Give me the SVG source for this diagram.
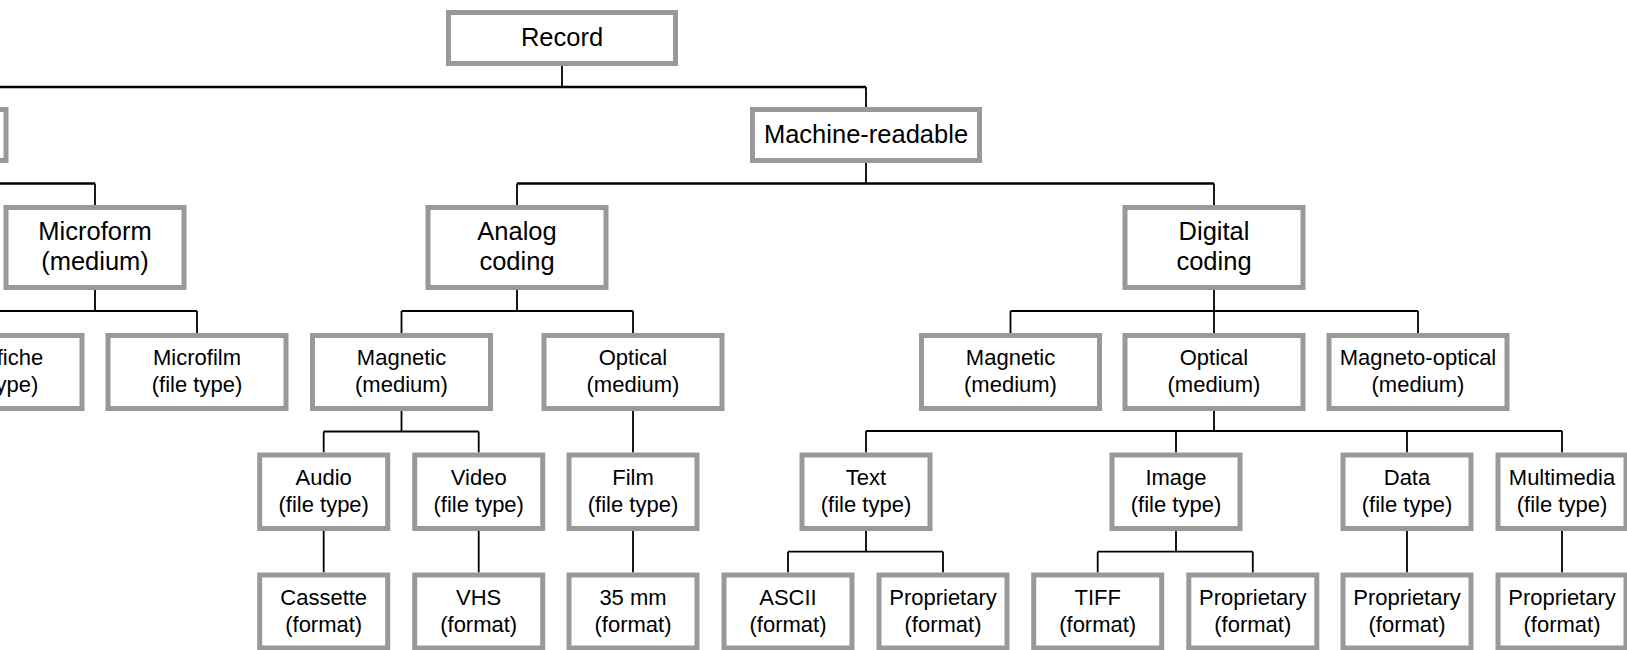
<svg xmlns="http://www.w3.org/2000/svg" width="1627" height="650" viewBox="0 0 1627 650">
<style>
.box{fill:#fff;stroke:#999;stroke-width:5}
.c{fill:none;stroke:#000;stroke-width:1.8}
.c2{fill:none;stroke:#000;stroke-width:2.4}
text{font-family:"Liberation Sans",Arial,sans-serif;fill:#000;text-anchor:middle}
.t1{font-size:25.5px}
.t2{font-size:22px}
</style>
<rect x="0" y="0" width="1627" height="650" fill="#fff"/>
<g id="connectors">
<path class="c2" d="M0,87H866"/>
<path class="c2" d="M517,183.5H1214 M0,183.5H95"/>
<path class="c" d="M562,66V87 M866,87V107 M866,163V183.5 M517,183.5V205 M1214,183.5V205 M95,183.5V205
M95,290V311 M-7,311H197 M197,311V333
M517,290V311 M401.5,311H633 M401.5,311V333 M633,311V333
M1214,290V333 M1010.5,311H1418 M1010.5,311V333 M1418,311V333
M401.5,411V431.5 M323.7,431.5H478.7 M323.7,431.5V452.5 M478.7,431.5V452.5
M633,411V452.5
M323.7,531V572.5 M478.7,531V572.5 M633,531V572.5
M1214,411V431 M866,431H1562 M866,431V452.5 M1176,431V452.5 M1407,431V452.5 M1562,431V452.5
M866,531V551.7 M788,551.7H943 M788,551.7V572.5 M943,551.7V572.5
M1176,531V551.7 M1097.7,551.7H1252.8 M1097.7,551.7V572.5 M1252.8,551.7V572.5
M1407,531V572.5 M1562,531V572.5"/>
</g>
<g id="record"><rect class="box" x="448.5" y="12.5" width="227" height="51"/><text class="t1" x="562" y="46">Record</text></g>
<g id="human-readable"><rect class="box" x="-220" y="109.5" width="226" height="51"/></g>
<g id="machine-readable"><rect class="box" x="752.5" y="109.5" width="227" height="51"/><text class="t1" x="866" y="143">Machine-readable</text></g>
<g id="microform"><rect class="box" x="6" y="207.5" width="178" height="80"/><text class="t1" x="95" y="240">Microform</text><text class="t1" x="95" y="270">(medium)</text></g>
<g id="analog"><rect class="box" x="428" y="207.5" width="178" height="80"/><text class="t1" x="517" y="240">Analog</text><text class="t1" x="517" y="270">coding</text></g>
<g id="digital"><rect class="box" x="1125" y="207.5" width="178" height="80"/><text class="t1" x="1214" y="240">Digital</text><text class="t1" x="1214" y="270">coding</text></g>
<g id="microfiche"><rect class="box" x="-96" y="335.5" width="178" height="73"/><text class="t2" x="-7" y="365">Microfiche</text><text class="t2" x="-7" y="391.5">(file type)</text></g>
<g id="microfilm"><rect class="box" x="108" y="335.5" width="178" height="73"/><text class="t2" x="197" y="365">Microfilm</text><text class="t2" x="197" y="391.5">(file type)</text></g>
<g id="analog-magnetic"><rect class="box" x="312.5" y="335.5" width="178" height="73"/><text class="t2" x="401.5" y="365">Magnetic</text><text class="t2" x="401.5" y="391.5">(medium)</text></g>
<g id="analog-optical"><rect class="box" x="544" y="335.5" width="178" height="73"/><text class="t2" x="633" y="365">Optical</text><text class="t2" x="633" y="391.5">(medium)</text></g>
<g id="digital-magnetic"><rect class="box" x="921.5" y="335.5" width="178" height="73"/><text class="t2" x="1010.5" y="365">Magnetic</text><text class="t2" x="1010.5" y="391.5">(medium)</text></g>
<g id="digital-optical"><rect class="box" x="1125" y="335.5" width="178" height="73"/><text class="t2" x="1214" y="365">Optical</text><text class="t2" x="1214" y="391.5">(medium)</text></g>
<g id="magneto-optical"><rect class="box" x="1329" y="335.5" width="178" height="73"/><text class="t2" x="1418" y="365">Magneto-optical</text><text class="t2" x="1418" y="391.5">(medium)</text></g>
<g id="audio"><rect class="box" x="259.7" y="455" width="128" height="73.5"/><text class="t2" x="323.7" y="485">Audio</text><text class="t2" x="323.7" y="511.5">(file type)</text></g>
<g id="video"><rect class="box" x="414.7" y="455" width="128" height="73.5"/><text class="t2" x="478.7" y="485">Video</text><text class="t2" x="478.7" y="511.5">(file type)</text></g>
<g id="film"><rect class="box" x="569" y="455" width="128" height="73.5"/><text class="t2" x="633" y="485">Film</text><text class="t2" x="633" y="511.5">(file type)</text></g>
<g id="text"><rect class="box" x="802" y="455" width="128" height="73.5"/><text class="t2" x="866" y="485">Text</text><text class="t2" x="866" y="511.5">(file type)</text></g>
<g id="image"><rect class="box" x="1112" y="455" width="128" height="73.5"/><text class="t2" x="1176" y="485">Image</text><text class="t2" x="1176" y="511.5">(file type)</text></g>
<g id="data"><rect class="box" x="1343" y="455" width="128" height="73.5"/><text class="t2" x="1407" y="485">Data</text><text class="t2" x="1407" y="511.5">(file type)</text></g>
<g id="multimedia"><rect class="box" x="1498" y="455" width="128" height="73.5"/><text class="t2" x="1562" y="485">Multimedia</text><text class="t2" x="1562" y="511.5">(file type)</text></g>
<g id="cassette"><rect class="box" x="259.7" y="575" width="128" height="73"/><text class="t2" x="323.7" y="605">Cassette</text><text class="t2" x="323.7" y="631.5">(format)</text></g>
<g id="vhs"><rect class="box" x="414.7" y="575" width="128" height="73"/><text class="t2" x="478.7" y="605">VHS</text><text class="t2" x="478.7" y="631.5">(format)</text></g>
<g id="mm35"><rect class="box" x="569" y="575" width="128" height="73"/><text class="t2" x="633" y="605">35 mm</text><text class="t2" x="633" y="631.5">(format)</text></g>
<g id="ascii"><rect class="box" x="724" y="575" width="128" height="73"/><text class="t2" x="788" y="605">ASCII</text><text class="t2" x="788" y="631.5">(format)</text></g>
<g id="text-proprietary"><rect class="box" x="879" y="575" width="128" height="73"/><text class="t2" x="943" y="605">Proprietary</text><text class="t2" x="943" y="631.5">(format)</text></g>
<g id="tiff"><rect class="box" x="1033.7" y="575" width="128" height="73"/><text class="t2" x="1097.7" y="605">TIFF</text><text class="t2" x="1097.7" y="631.5">(format)</text></g>
<g id="image-proprietary"><rect class="box" x="1188.8" y="575" width="128" height="73"/><text class="t2" x="1252.8" y="605">Proprietary</text><text class="t2" x="1252.8" y="631.5">(format)</text></g>
<g id="data-proprietary"><rect class="box" x="1343" y="575" width="128" height="73"/><text class="t2" x="1407" y="605">Proprietary</text><text class="t2" x="1407" y="631.5">(format)</text></g>
<g id="multimedia-proprietary"><rect class="box" x="1498" y="575" width="128" height="73"/><text class="t2" x="1562" y="605">Proprietary</text><text class="t2" x="1562" y="631.5">(format)</text></g>
</svg>
